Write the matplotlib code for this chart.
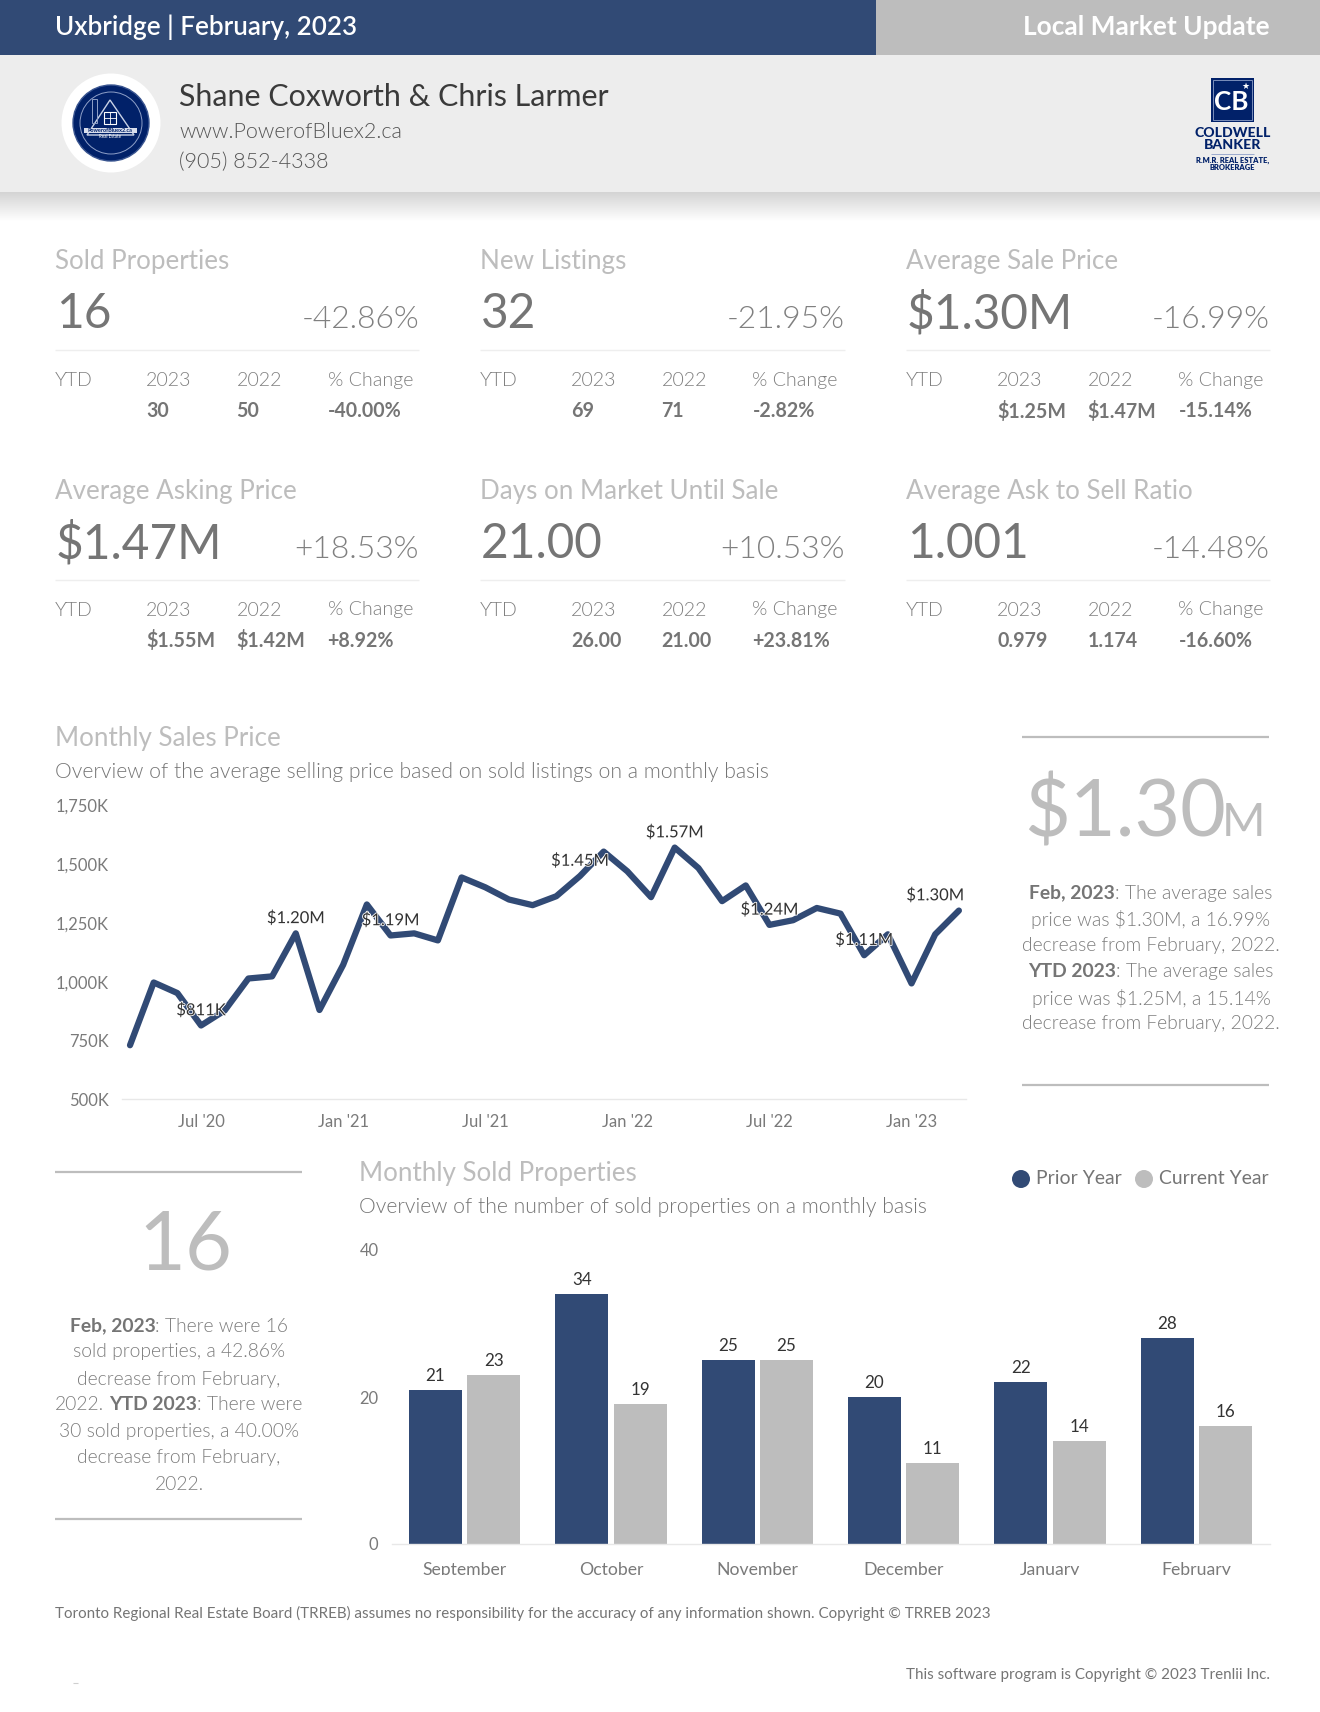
import numpy as np
import matplotlib
matplotlib.use("Agg")
import matplotlib.pyplot as plt
import matplotlib.patheffects as pe
from matplotlib.patches import Rectangle, Circle, Polygon

plt.rcParams['font.family'] = ['Lato', 'DejaVu Sans']

BLUE = '#314A75'
GREY = '#BDBDBD'
NAVY = '#012169'

# ---------- data ----------
area = 'Uxbridge | February, 2023'
banner = 'Local Market Update'
agent = 'Shane Coxworth & Chris Larmer'
site = 'www.PowerofBluex2.ca'
phone = '(905) 852-4338'

stat_titles = ['Sold Properties', 'New Listings', 'Average Sale Price',
               'Average Asking Price', 'Days on Market Until Sale', 'Average Ask to Sell Ratio']
stat_values = ['16', '32', '$1.30M', '$1.47M', '21.00', '1.001']
stat_changes = ['-42.86%', '-21.95%', '-16.99%', '+18.53%', '+10.53%', '-14.48%']
ytd_2023 = ['30', '69', '$1.25M', '$1.55M', '26.00', '0.979']
ytd_2022 = ['50', '71', '$1.47M', '$1.42M', '21.00', '1.174']
ytd_change = ['-40.00%', '-2.82%', '-15.14%', '+8.92%', '+23.81%', '-16.60%']

price_k = [730, 997, 952, 814, 878, 1014, 1023, 1206, 880, 1072, 1329, 1197,
           1206, 1176, 1444, 1402, 1350, 1326, 1364, 1450, 1554, 1470, 1360, 1571,
           1484, 1343, 1410, 1242, 1262, 1314, 1290, 1113, 1202, 993, 1202, 1303]
price_ticks = [500, 750, 1000, 1250, 1500, 1750]
price_tick_labels = ['500K', '750K', '1,000K', '1,250K', '1,500K', '1,750K']
month_tick_pos = [3, 9, 15, 21, 27, 33]
month_tick_labels = ["Jul '20", "Jan '21", "Jul '21", "Jan '22", "Jul '22", "Jan '23"]
price_label_idx = [3, 7, 11, 19, 23, 27, 31, 35]
price_label_txt = ['$811K', '$1.20M', '$1.19M', '$1.45M', '$1.57M', '$1.24M', '$1.11M', '$1.30M']

bar_months = ['September', 'October', 'November', 'December', 'January', 'February']
prior_year = [21, 34, 25, 20, 22, 28]
current_year = [23, 19, 25, 11, 14, 16]
bar_ticks = [0, 20, 40]

# ---------- canvas ----------
W, H = 1320, 1712
fig = plt.figure(figsize=(W / 100, H / 100), dpi=100, facecolor='white')
bg = fig.add_axes([0, 0, 1, 1], zorder=-1)
bg.set_axis_off()
PX = 0.72


def T(x, y, s, px, color='#757575', ha='left', weight=400, va='center', **kw):
    return bg.text(x, y, s, fontsize=px * PX, color=color, ha=ha, va=va, weight=weight, **kw)


def R(x0, y0, x1, y1, color):
    bg.add_patch(Rectangle((x0, y0), x1 - x0, y1 - y0, fc=color, ec='none'))


def rule(x0, x1, y, color='#EEEEEE', lw=1.0):
    bg.plot([x0, x1], [y, y], color=color, lw=lw, solid_capstyle='butt')


# header
grad = np.linspace(0.83, 1.0, 30)[:, None]
bg.imshow(grad, cmap='gray', vmin=0, vmax=1, extent=(0, W, 222, 192), aspect='auto', zorder=0)
bg.set_xlim(0, W)
bg.set_ylim(H, 0)
R(0, 0, 876, 55, BLUE)
R(876, 0, W, 55, GREY)
R(0, 55, W, 192, '#EDEDED')
T(55, 27, area, 26, 'white', weight=600)
T(1269.5, 27, banner, 26.3, 'white', ha='right', weight=700)
T(179, 97, agent, 30.4, '#3A3A3A')
T(179, 131.5, site, 21.5, '#555555', weight=300)
T(179, 162.5, phone, 21.5, '#555555', weight=300)

# agent logo
bg.add_patch(Circle((111, 123), 49.5, fc='white', ec='none', zorder=2))
bg.add_patch(Circle((111, 123), 38, fc=NAVY, ec='#3A5590', lw=1, zorder=3))
bg.add_patch(Circle((111, 123), 31, fc='none', ec='#8FA0C8', lw=0.7, zorder=3))
bg.add_patch(Polygon([[87, 135], [110, 100], [134, 135]], closed=True, fc='none', ec='#C9D2E6', lw=1, zorder=4))
bg.add_patch(Rectangle((92, 99), 5, 24, fc='none', ec='#8FA0C8', lw=0.7, zorder=4))
bg.add_patch(Rectangle((104, 112), 12, 12, fc='none', ec='white', lw=0.8, zorder=4))
bg.plot([110, 110], [112, 124], color='white', lw=0.6, zorder=4)
bg.plot([104, 116], [118, 118], color='white', lw=0.6, zorder=4)
R(84, 128, 137, 133, '#D8DEEC')
bg.patches[-1].set_zorder(4)
T(110, 130.5, 'PowerofBluex2.ca', 5.5, NAVY, ha='center', weight=700, zorder=5)
T(110, 136.5, 'Real Estate', 4.5, 'white', ha='center', zorder=5)

# brokerage logo
R(1211, 78, 1254, 122, NAVY)
bg.add_patch(Rectangle((1213, 80), 39, 40, fc='none', ec='#8FA0C8', lw=0.6))
T(1231, 102, 'CB', 26, 'white', ha='center', weight=700, zorder=5)
T(1245, 86, '★', 9, 'white', ha='center', family=['DejaVu Sans'], zorder=5)
T(1232.5, 133, 'COLDWELL', 14, NAVY, ha='center', weight=900)
T(1232.5, 145, 'BANKER', 14, NAVY, ha='center', weight=900)
rule(1211, 1254, 153.5, '#8FA0C8', 0.6)
T(1232.5, 160.5, 'R.M.R. REAL ESTATE,', 7.5, NAVY, ha='center', weight=800)
T(1232.5, 167, 'BROKERAGE', 7.5, NAVY, ha='center', weight=800)

# stat blocks
col_x = [55, 480, 906]
col_right = [419, 845, 1270]
row_dy = [0, 230]
for i, title in enumerate(stat_titles):
    x = col_x[i % 3]
    d = row_dy[i // 3]
    right = col_right[i % 3]
    T(x, 261 + d, title, 26, GREY)
    T(x + 1, 314 + d, stat_values[i], 47.8, '#757575')
    T(right, 319 + d, stat_changes[i], 31.8, '#808080', ha='right', weight=300)
    rule(x, right, 350 + d)
    for dx, head, val in zip([0, 91, 181.5, 272.5], ['YTD', '2023', '2022', '% Change'],
                             ['', ytd_2023[i], ytd_2022[i], ytd_change[i]]):
        T(x + dx, 380 + d, head, 19.6, '#7F7F7F', weight=300)
        if val:
            T(x + dx, 411 + d, val, 19.6, '#757575', weight=700)

# section headers
T(55, 738, 'Monthly Sales Price', 26, GREY)
T(55, 772, 'Overview of the average selling price based on sold listings on a monthly basis', 21.1, '#757575', weight=300)
T(359, 1173, 'Monthly Sold Properties', 26, GREY)
T(359, 1207, 'Overview of the number of sold properties on a monthly basis', 21.1, '#757575', weight=300)


def mixed(cx, y, runs, px=19.3):
    """Draw one centred line made of (text, bold) runs."""
    r = fig.canvas.get_renderer()
    def width(s, w):
        t = bg.text(0, 0, s, fontsize=px * PX, weight=w)
        e = t.get_window_extent(r).width
        t.remove()
        return e
    sp = width('a a', 300) - width('aa', 300)
    parts = []
    total = 0
    for s, b in runs:
        w = 700 if b else 300
        lead = sp if s.startswith(' ') else 0
        trail = sp if s.endswith(' ') else 0
        clean = s.strip()
        wd = width(clean, w)
        parts.append((clean, w, lead, wd, trail))
        total += lead + wd + trail
    x = cx - total / 2
    for clean, w, lead, wd, trail in parts:
        x += lead
        T(x, y, clean, px, '#757575' if w == 700 else '#7C7C7C', weight=w)
        x += wd + trail


# right call-out
rule(1022, 1269, 737, GREY, 1.6)
rule(1022, 1269, 1084.5, GREY, 1.6)
T(1024, 813, '$1.30', 79, GREY, weight=400)
T(1222, 823, 'M', 47, GREY, weight=400)
para1 = [[('Feb, 2023', True), (': The average sales', False)],
         [('price was $1.30M, a 16.99%', False)],
         [('decrease from February, 2022.', False)],
         [('YTD 2023', True), (': The average sales', False)],
         [('price was $1.25M, a 15.14%', False)],
         [('decrease from February, 2022.', False)]]
for yy, runs in zip([893, 919, 945, 971, 998, 1024], para1):
    mixed(1151, yy, runs)

# left call-out
rule(55, 302, 1171.5, GREY, 1.6)
rule(55, 302, 1519, GREY, 1.6)
T(185, 1246, '16', 81, GREY, ha='center')
para2 = [[('Feb, 2023', True), (': There were 16', False)],
         [('sold properties, a 42.86%', False)],
         [('decrease from February,', False)],
         [('2022. ', False), ('YTD 2023', True), (': There were', False)],
         [('30 sold properties, a 40.00%', False)],
         [('decrease from February,', False)],
         [('2022.', False)]]
for yy, runs in zip([1326, 1352, 1379, 1405, 1431, 1457, 1484], para2):
    mixed(179, yy, runs)

# legend
bg.add_patch(Circle((1021, 1179), 9, fc=BLUE, ec='none'))
bg.add_patch(Circle((1144, 1179), 9, fc=GREY, ec='none'))
T(1036, 1179, 'Prior Year', 19.4, '#757575')
T(1159, 1179, 'Current Year', 19.4, '#757575')

# footer
T(55, 1613, 'Toronto Regional Real Estate Board (TRREB) assumes no responsibility for the accuracy of any information shown. Copyright © TRREB 2023', 15.1, '#757575')
T(1269.5, 1675, 'This software program is Copyright © 2023 Trenlii Inc.', 15.1, '#757575', ha='right')
rule(73, 78, 1682.5, '#CFCFCF', 0.8)


def axes_px(x0, y0, x1, y1):
    return fig.add_axes([x0 / W, 1 - y1 / H, (x1 - x0) / W, (y1 - y0) / H], facecolor='none')


# line chart
ax = axes_px(122, 805.5, 966, 1099.3)
xs = np.arange(len(price_k))
ax.plot(xs, price_k, color=BLUE, lw=4.5, solid_joinstyle='round', solid_capstyle='round', clip_on=False)
ax.set_xlim(-0.338, 35.3)
ax.set_ylim(500, 1750)
for s in ['top', 'left', 'right']:
    ax.spines[s].set_visible(False)
ax.spines['bottom'].set_color('#E8E8E8')
ax.spines['bottom'].set_linewidth(1)
ax.set_yticks(price_ticks, price_tick_labels)
ax.set_xticks(month_tick_pos, month_tick_labels)
ax.tick_params(length=0, labelsize=16.5 * PX, labelcolor='#7A7A7A')
ax.tick_params(axis='y', pad=13 * PX)
ax.tick_params(axis='x', pad=15 * PX)
for i, txt in zip(price_label_idx, price_label_txt):
    dx = -23.7 if i == price_label_idx[-1] else 0
    ax.annotate(txt, (xs[i], price_k[i]), xytext=(dx * PX, 15.5 * PX), textcoords='offset points',
                ha='center', va='center', fontsize=16.6 * PX, color='#333333',
                path_effects=[pe.withStroke(linewidth=1.2, foreground='white')], zorder=5)

# bar chart
ax2 = axes_px(391.5, 1250, 1269.5, 1544)
xb = np.arange(len(bar_months))
b1 = ax2.bar(xb - 0.2, prior_year, 0.362, color=BLUE)
b2 = ax2.bar(xb + 0.2, current_year, 0.362, color=GREY)
ax2.set_xlim(-0.5, 5.5)
ax2.set_ylim(0, 40)
for s in ['top', 'left', 'right']:
    ax2.spines[s].set_visible(False)
ax2.spines['bottom'].set_color('#E8E8E8')
ax2.spines['bottom'].set_linewidth(1)
ax2.set_yticks(bar_ticks, [str(v) for v in bar_ticks])
ax2.set_xticks(xb, bar_months)
ax2.tick_params(length=0, labelsize=16.5 * PX, labelcolor='#7A7A7A')
ax2.tick_params(axis='x', labelsize=17.6 * PX)
ax2.tick_params(axis='y', pad=13 * PX)
ax2.tick_params(axis='x', pad=17.6 * PX)
for bars, vals in ((b1, prior_year), (b2, current_year)):
    for rect, v in zip(bars, vals):
        ax2.annotate(str(v), (rect.get_x() + rect.get_width() / 2, v), xytext=(0, 14 * PX),
                     textcoords='offset points', ha='center', va='center',
                     fontsize=17 * PX, color='#333333')

# month labels are cut off at the bottom edge of the chart frame
fig.add_artist(Rectangle((380 / W, 1 - 1590 / H), 900 / W, 15 / H, transform=fig.transFigure,
                         fc='white', ec='none', zorder=10))

fig.savefig('out.png', dpi=100, facecolor='white')
